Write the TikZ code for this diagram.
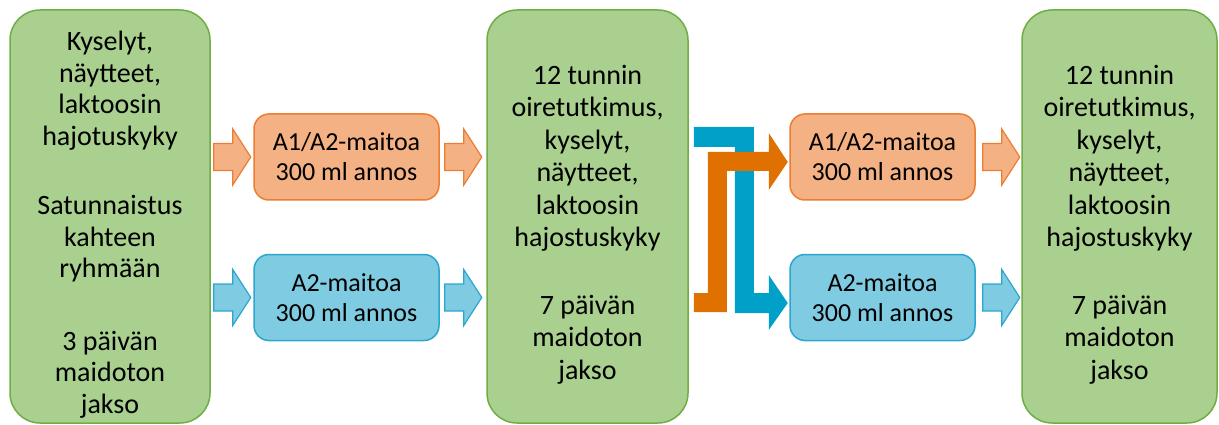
\documentclass[tikz,border=0pt]{standalone}
\usepackage{fontspec}
\setmainfont{Carlito}
\usetikzlibrary{calc}

\definecolor{vihrea}{HTML}{A9D08E}
\definecolor{vihreareuna}{HTML}{70AD47}
\definecolor{oranssi}{HTML}{F4B183}
\definecolor{oranssireuna}{HTML}{ED7D31}
\definecolor{sininen}{HTML}{7FCCE2}
\definecolor{sininenreuna}{HTML}{2AA6CF}
\definecolor{tummaoranssi}{HTML}{E07000}
\definecolor{tummasininen}{HTML}{00A0C8}

\tikzset{
  isobox/.style={draw=vihreareuna, fill=vihrea, line width=1.5pt, rounded corners=30pt,
    minimum width=#1, minimum height=413pt, inner sep=0pt},
  isoteksti/.style={align=center, inner sep=0pt, font=\fontsize{28}{#1}\selectfont},
  maitobox/.style={line width=1.5pt, rounded corners=15pt, minimum width=185pt,
    minimum height=86pt, inner sep=0pt, align=center, font=\fontsize{26}{30}\selectfont},
  obox/.style={maitobox, draw=oranssireuna, fill=oranssi},
  bbox/.style={maitobox, draw=sininenreuna, fill=sininen},
  onuoli/.style={draw=oranssireuna, fill=oranssi, line width=1.2pt, line join=miter},
  bnuoli/.style={draw=sininenreuna, fill=sininen, line width=1.2pt, line join=miter},
}

% block arrow, tail centre at #2
\newcommand{\blockarrow}[2]{%
  \draw[#1] (#2) ++(0,-13.5) -- ++(19,0) -- ++(0,-14.5) -- ++(18,28)
    -- ++(-18,28) -- ++(0,-14.5) -- ++(-19,0) -- cycle;}

\begin{document}
\begin{tikzpicture}[x=1pt,y=-1pt]
  \useasboundingbox (0,0) rectangle (1219,425);

  \node[isobox=200pt] (gl) at (110,216.5) {};
  \node[isobox=201pt] (gm) at (587.5,216.5) {};
  \node[isobox=195pt] (gr) at (1119.5,216.5) {};

  \node[isoteksti=31.5] (tl) at ($(gl.center)+(0,8)$) {Kyselyt,\\näytteet,\\laktoosin\\hajotuskyky\\[38pt]
    Satunnaistus\\kahteen\\ryhmään\\[41pt]3 päivän\\maidoton\\jakso};
  \node[isoteksti=32.5] (tm) at ($(gm.center)+(0,8)$) {12 tunnin\\oiretutkimus,\\kyselyt,\\näytteet,\\laktoosin\\hajostuskyky\\[35pt]
    7 päivän\\maidoton\\jakso};
  \node[isoteksti=32.5] (tr) at ($(gr.center)+(0,8)$) {12 tunnin\\oiretutkimus,\\kyselyt,\\näytteet,\\laktoosin\\hajostuskyky\\[35pt]
    7 päivän\\maidoton\\jakso};

  \node[obox] (o1) at (346.5,157) {A1/A2-maitoa\\300 ml annos};
  \node[bbox] (b1) at (346.5,297.5) {A2-maitoa\\300 ml annos};
  \node[obox] (o2) at (882.5,157) {A1/A2-maitoa\\300 ml annos};
  \node[bbox] (b2) at (882.5,297.5) {A2-maitoa\\300 ml annos};

  \blockarrow{onuoli}{$(gl.east |- o1.west)+(3,0)$}
  \blockarrow{bnuoli}{$(gl.east |- b1.west)+(3,0)$}
  \blockarrow{onuoli}{$(o1.east)+(5,0)$}
  \blockarrow{bnuoli}{$(b1.east)+(5,0)$}
  \blockarrow{onuoli}{$(o2.east)+(7,0)$}
  \blockarrow{bnuoli}{$(b2.east)+(7,0)$}

  % crossing arrows
  \coordinate (xa) at ($(gm.east)+(5,0)$);
  \fill[tummasininen] (xa |- o1.center) ++(0,-30) -- ++(60,0) -- ++(0,166) -- ++(15,0)
    -- ++(0,-18) -- ++(19,28) -- ++(-19,27) -- ++(0,-17) -- ++(-34,0) -- ++(0,-166)
    -- ++(-41,0) -- cycle;
  \fill[tummaoranssi] (xa |- b1.center) ++(0,-4.5) -- ++(14,0) -- ++(0,-141) -- ++(61,0)
    -- ++(0,-19) -- ++(19,29) -- ++(-19,28) -- ++(0,-19) -- ++(-42,0) -- ++(0,141)
    -- ++(-33,0) -- cycle;
\end{tikzpicture}
\end{document}
